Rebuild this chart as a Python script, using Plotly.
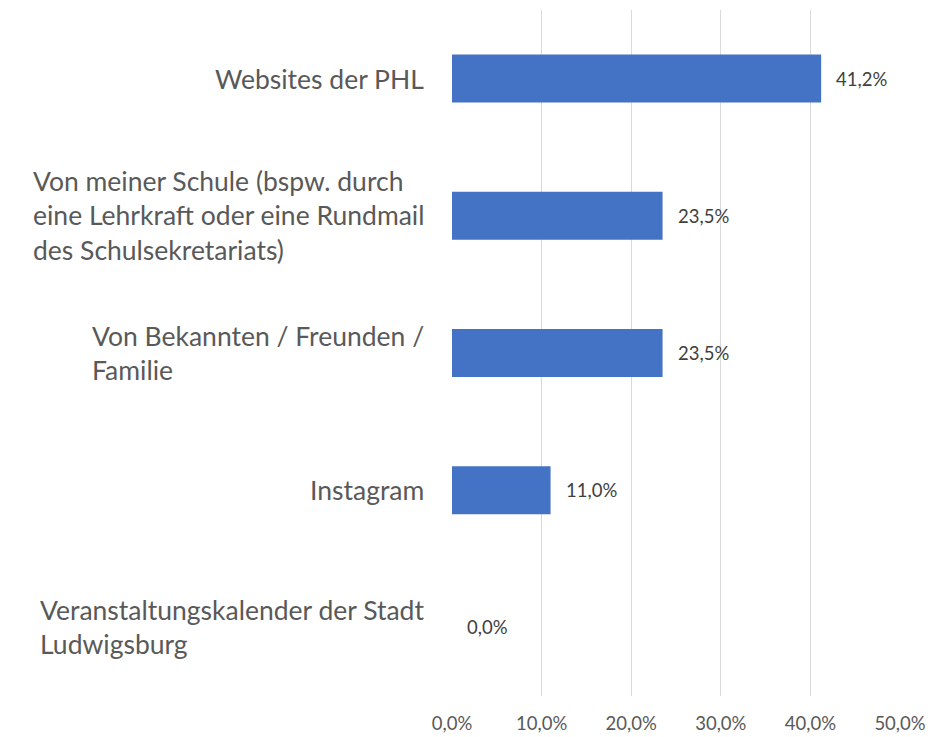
import plotly.graph_objects as go

categories = [
    "Websites der PHL",
    "Von meiner Schule (bspw. durch<br>eine Lehrkraft oder eine Rundmail<br>des Schulsekretariats)",
    "Von Bekannten / Freunden /<br>Familie",
    "Instagram",
    "Veranstaltungskalender der Stadt<br>Ludwigsburg",
]
values = [41.2, 23.5, 23.5, 11.0, 0.0]
x_ticks = [0, 10, 20, 30, 40, 50]

FONT = "Lato, Calibri, Carlito, sans-serif"
GREY = "#595959"

ids = list(range(len(categories)))

def pct(v):
    return f"{v:.1f}%".replace(".", ",")

fig = go.Figure(go.Bar(
    x=values, y=ids, orientation="h",
    marker=dict(color="#4472C4", line=dict(width=0)),
    width=0.35,
    hoverinfo="skip",
))

annotations = []
for i, (c, v) in enumerate(zip(categories, values)):
    annotations.append(dict(
        x=0, y=i, xref="paper", yref="y", text=c, showarrow=False,
        xanchor="right", yanchor="middle", align="left", xshift=-26,
        font=dict(family=FONT, size=26.5, color=GREY),
    ))
    annotations.append(dict(
        x=v, y=i, xref="x", yref="y", text=pct(v),
        showarrow=False, xanchor="left", yanchor="middle", xshift=13,
        font=dict(family=FONT, size=18.5, color="#404040"),
    ))

fig.update_layout(
    width=925, height=729,
    margin=dict(l=444, r=33, t=2, b=41, autoexpand=False),
    paper_bgcolor="white", plot_bgcolor="white",
    showlegend=False,
    font=dict(family=FONT, color=GREY),
    annotations=annotations,
)
fig.update_xaxes(
    range=[0, 50], tickvals=x_ticks, ticktext=[pct(t) for t in x_ticks],
    showgrid=True, gridcolor="#d9d9d9", gridwidth=1.3,
    zeroline=False, showline=False,
    tickfont=dict(family=FONT, size=18.5, color=GREY),
    ticklabelstandoff=14,
)
fig.update_yaxes(
    range=[4.5, -0.5], showticklabels=False, showgrid=False,
    zeroline=False, showline=False,
)

fig.write_html("out.html")
